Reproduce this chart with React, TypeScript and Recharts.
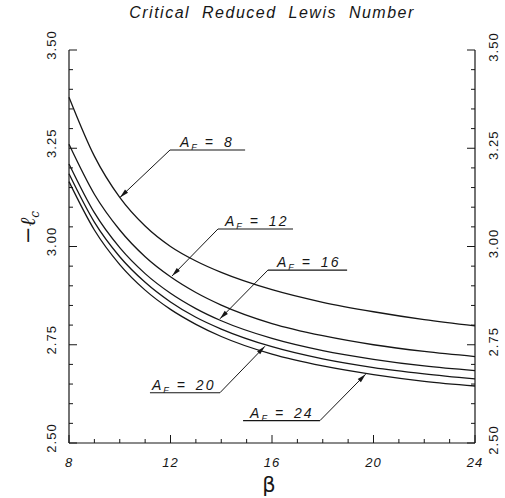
import React from "react";
import { LineChart, Line, XAxis, YAxis, ReferenceLine } from "recharts";

const INK = "#161616";
const FONT = '"Liberation Sans", Arial, Helvetica, sans-serif';

// beta values
const betaValues = [8, 9, 10, 11, 12, 13, 14, 16, 18, 20, 22, 24];
const lewisAF8 = [3.38, 3.23, 3.125, 3.052, 3.0, 2.963, 2.934, 2.89, 2.858, 2.834, 2.814, 2.798];
const lewisAF12 = [3.26, 3.133, 3.042, 2.974, 2.923, 2.883, 2.851, 2.804, 2.773, 2.75, 2.733, 2.72];
const lewisAF16 = [3.21, 3.086, 2.997, 2.931, 2.881, 2.842, 2.811, 2.766, 2.735, 2.713, 2.696, 2.684];
const lewisAF20 = [3.185, 3.062, 2.974, 2.909, 2.859, 2.82, 2.79, 2.745, 2.714, 2.692, 2.676, 2.663];
const lewisAF24 = [3.165, 3.042, 2.954, 2.889, 2.84, 2.802, 2.771, 2.726, 2.696, 2.674, 2.657, 2.645];

const xTicks = [8, 9, 10, 11, 12, 13, 14, 15, 16, 17, 18, 19, 20, 21, 22, 23, 24];
const yTicks = [
  2.5, 2.55, 2.6, 2.65, 2.7, 2.75, 2.8, 2.85, 2.9, 2.95, 3.0,
  3.05, 3.1, 3.15, 3.2, 3.25, 3.3, 3.35, 3.4, 3.45, 3.5,
];

// the last series sits on the right axis (same domain) so that axis gets its ticks
const seriesKeys = ["af8", "af12", "af16", "af20", "af24"];

const data = betaValues.map((beta, i) => ({
  beta,
  af8: lewisAF8[i],
  af12: lewisAF12[i],
  af16: lewisAF16[i],
  af20: lewisAF20[i],
  af24: lewisAF24[i],
}));

// label callouts: underline from..to at level, elbow end joins the leader to the curve
const callouts = [
  { text: "8", from: 11.98, to: 14.94, level: 3.2455, elbow: "left", tipX: 10.01, tipY: 3.125, offset: 10 },
  { text: "12", from: 13.87, to: 16.83, level: 3.0445, elbow: "left", tipX: 12.06, tipY: 2.925, offset: 7 },
  { text: "16", from: 15.84, to: 18.96, level: 2.94, elbow: "left", tipX: 13.95, tipY: 2.816, offset: 9 },
  { text: "20", from: 11.19, to: 13.95, level: 2.628, elbow: "right", tipX: 15.72, tipY: 2.746, offset: 2 },
  { text: "24", from: 14.86, to: 17.89, level: 2.557, elbow: "right", tipX: 19.69, tipY: 2.675, offset: 7 },
];

const isMajorY = (v: number) => Math.abs(v * 4 - Math.round(v * 4)) < 1e-6;

function BottomTick(props: any) {
  const { x, y, payload } = props;
  const major = payload.value % 4 === 0;
  return (
    <g>
      <line x1={x} y1={y} x2={x} y2={y - (major ? 8 : 4)} stroke={INK} strokeWidth={1} />
      {major && (
        <text
          x={x}
          y={y + 24}
          textAnchor="middle"
          fontFamily={FONT}
          fontStyle="italic"
          fontSize={13}
          letterSpacing={1}
          fill={INK}
        >
          {payload.value}
        </text>
      )}
    </g>
  );
}

function LeftTick(props: any) {
  const { x, y, payload } = props;
  const major = isMajorY(payload.value);
  const tx = x - 13;
  const ty = y - 5;
  return (
    <g>
      <line x1={x} y1={y} x2={x + (major ? 8 : 4)} y2={y} stroke={INK} strokeWidth={1} />
      {major && (
        <text
          x={tx}
          y={ty}
          transform={`rotate(-90 ${tx} ${ty})`}
          textAnchor="middle"
          fontFamily={FONT}
          fontSize={13}
          letterSpacing={1}
          fill={INK}
        >
          {payload.value.toFixed(2)}
        </text>
      )}
    </g>
  );
}

function RightTick(props: any) {
  const { x, y, payload } = props;
  const major = isMajorY(payload.value);
  const tx = x + 23;
  const ty = y - 3;
  return (
    <g>
      <line x1={x} y1={y} x2={x - (major ? 8 : 4)} y2={y} stroke={INK} strokeWidth={1} />
      {major && (
        <text
          x={tx}
          y={ty}
          transform={`rotate(-90 ${tx} ${ty})`}
          textAnchor="middle"
          fontFamily={FONT}
          fontSize={13}
          letterSpacing={1}
          fill={INK}
        >
          {payload.value.toFixed(2)}
        </text>
      )}
    </g>
  );
}

function arrowShape(props: any) {
  const { x1, y1, x2, y2 } = props;
  const dx = x2 - x1;
  const dy = y2 - y1;
  const len = Math.hypot(dx, dy) || 1;
  const ux = dx / len;
  const uy = dy / len;
  const hl = 9;
  const hw = 2.2;
  const bx = x2 - ux * hl;
  const by = y2 - uy * hl;
  const pts = `${x2},${y2} ${bx - uy * hw},${by + ux * hw} ${bx + uy * hw},${by - ux * hw}`;
  return (
    <g>
      <line x1={x1} y1={y1} x2={x2} y2={y2} stroke={INK} strokeWidth={1} />
      <polygon points={pts} fill={INK} />
    </g>
  );
}

const makeLabelShape = (text: string, offset: number) => (props: any) => {
  const { x1, y1, x2, y2 } = props;
  const left = Math.min(x1, x2);
  return (
    <g>
      <line x1={x1} y1={y1} x2={x2} y2={y2} stroke={INK} strokeWidth={1.1} />
      <text
        x={left + offset}
        y={y1 - 3}
        fontFamily={FONT}
        fontStyle="italic"
        fontSize={14}
        letterSpacing={2}
        wordSpacing={3}
        fill={INK}
      >
        <tspan>A</tspan>
        <tspan fontSize={9} dy={3}>F</tspan>
        <tspan dx={6} dy={-3}>= {text}</tspan>
      </text>
    </g>
  );
};

function renderYTitle(props: any) {
  const vb = props.viewBox || { x: 29, y: 50, height: 393 };
  const cx = vb.x + 6;
  const cy = vb.y + vb.height / 2 - 19;
  return (
    <text
      x={cx}
      y={cy}
      transform={`rotate(-90 ${cx} ${cy})`}
      textAnchor="middle"
      fontFamily='"DejaVu Serif", serif'
      fontStyle="italic"
      fontSize={21}
      fill={INK}
    >
      <tspan>−ℓ</tspan>
      <tspan fontSize={12} dy={4}>c</tspan>
    </text>
  );
}

function renderXTitle(props: any) {
  const vb = props.viewBox || { x: 69, y: 443, width: 406 };
  return (
    <text
      x={vb.x + vb.width / 2 - 3}
      y={vb.y + 49}
      textAnchor="middle"
      fontFamily='"DejaVu Sans", sans-serif'
      fontSize={21}
      fill={INK}
    >
      β
    </text>
  );
}

export default function App() {
  return (
    <div style={{ position: "absolute", left: 0, top: 0, width: 505, height: 498, background: "#fff" }}>
      <div
        style={{
          position: "absolute",
          left: 72,
          top: 4,
          width: 400,
          textAlign: "center",
          fontFamily: FONT,
          fontStyle: "italic",
          fontSize: 16,
          letterSpacing: 1.5,
          wordSpacing: 6,
          lineHeight: "18px",
          color: INK,
        }}
      >
        Critical Reduced Lewis Number
      </div>
      <LineChart width={505} height={498} data={data} margin={{ top: 50, right: 5, bottom: 0, left: 29 }}>
        <XAxis
          dataKey="beta"
          type="number"
          domain={[8, 24]}
          ticks={xTicks}
          interval={0}
          height={55}
          tickSize={0}
          tickMargin={0}
          tickLine={false}
          axisLine={{ stroke: INK, strokeWidth: 1.2 }}
          tick={(p: any) => <BottomTick {...p} />}
          label={renderXTitle}
        />
        <XAxis
          xAxisId="top"
          orientation="top"
          type="number"
          dataKey="beta"
          domain={[8, 24]}
          height={0}
          tick={false}
          tickLine={false}
          axisLine={{ stroke: INK, strokeWidth: 1.2 }}
        />
        <YAxis
          type="number"
          domain={[2.5, 3.5]}
          ticks={yTicks}
          interval={0}
          width={40}
          tickSize={0}
          tickMargin={0}
          tickLine={false}
          axisLine={{ stroke: INK, strokeWidth: 1.2 }}
          tick={(p: any) => <LeftTick {...p} />}
          label={renderYTitle}
        />
        <YAxis
          yAxisId="right"
          orientation="right"
          type="number"
          domain={[2.5, 3.5]}
          ticks={yTicks}
          interval={0}
          width={25}
          tickSize={0}
          tickMargin={0}
          tickLine={false}
          axisLine={{ stroke: INK, strokeWidth: 1.2 }}
          tick={(p: any) => <RightTick {...p} />}
        />
        {seriesKeys.map((key, i) => (
          <Line
            key={key}
            yAxisId={i === seriesKeys.length - 1 ? "right" : 0}
            xAxisId={i === seriesKeys.length - 1 ? "top" : 0}
            type="monotone"
            dataKey={key}
            stroke={INK}
            strokeWidth={1.3}
            dot={false}
            activeDot={false}
            isAnimationActive={false}
          />
        ))}
        {callouts.map((c) => (
          <ReferenceLine
            key={`u-${c.text}`}
            segment={[
              { x: c.from, y: c.level },
              { x: c.to, y: c.level },
            ]}
            shape={makeLabelShape(c.text, c.offset)}
          />
        ))}
        {callouts.map((c) => (
          <ReferenceLine
            key={`a-${c.text}`}
            segment={[
              { x: c.elbow === "left" ? c.from : c.to, y: c.level },
              { x: c.tipX, y: c.tipY },
            ]}
            shape={arrowShape}
          />
        ))}
      </LineChart>
    </div>
  );
}
